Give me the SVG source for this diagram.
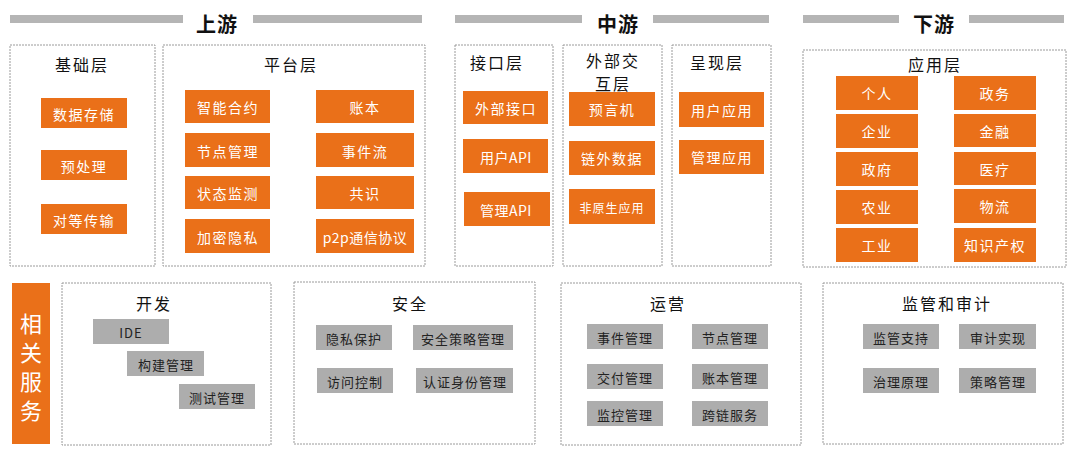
<svg xmlns="http://www.w3.org/2000/svg" width="1080" height="458" viewBox="0 0 1080 458">
<style>
text{font-family:"Noto Sans CJK SC","Noto Sans",sans-serif;text-anchor:middle;dominant-baseline:central}
.bar{fill:#b5b5b5}
.hd{font-size:20px;font-weight:bold;fill:#111;letter-spacing:1px}
.frame{fill:#fff;stroke:#9a9a9a;stroke-width:1;stroke-dasharray:2 1}
.ttl{font-size:16px;fill:#111;letter-spacing:2px}
.o{fill:#ea7019}
.ot{font-size:14px;fill:#fff;letter-spacing:1.5px}
.g{fill:#adadad}
.gt{font-size:13px;fill:#222;letter-spacing:1px}
.vt{font-size:22px;fill:#fff}
</style>
<rect width="1080" height="458" fill="#fff"/>
<g id="headers">
<rect class="bar" x="10" y="15" width="173" height="8"/>
<rect class="bar" x="253" y="15" width="169" height="8"/>
<text class="hd" x="217" y="23">上游</text>
<rect class="bar" x="455" y="15" width="127" height="8"/>
<rect class="bar" x="653" y="15" width="116" height="8"/>
<text class="hd" x="618" y="23">中游</text>
<rect class="bar" x="803" y="15" width="96" height="8"/>
<rect class="bar" x="969" y="15" width="95" height="8"/>
<text class="hd" x="934" y="23">下游</text>
</g>
<g id="jichu">
<rect class="frame" x="10" y="45" width="145" height="221"/>
<text class="ttl" x="82" y="64">基础层</text>
<rect class="o" x="41" y="98" width="86" height="30"/><text class="ot" x="84" y="114">数据存储</text>
<rect class="o" x="41" y="150" width="86" height="30"/><text class="ot" x="84" y="166">预处理</text>
<rect class="o" x="41" y="204" width="86" height="30"/><text class="ot" x="84" y="220">对等传输</text>
</g>
<g id="pingtai">
<rect class="frame" x="163" y="45" width="262" height="221"/>
<text class="ttl" x="291" y="64">平台层</text>
<rect class="o" x="185" y="90" width="85" height="33"/><text class="ot" x="228" y="107">智能合约</text>
<rect class="o" x="185" y="133" width="85" height="34"/><text class="ot" x="228" y="151">节点管理</text>
<rect class="o" x="185" y="176" width="85" height="33"/><text class="ot" x="228" y="193">状态监测</text>
<rect class="o" x="185" y="219" width="85" height="34"/><text class="ot" x="228" y="237">加密隐私</text>
<rect class="o" x="316" y="90" width="98" height="33"/><text class="ot" x="365" y="107">账本</text>
<rect class="o" x="316" y="133" width="98" height="34"/><text class="ot" x="365" y="151">事件流</text>
<rect class="o" x="316" y="176" width="98" height="33"/><text class="ot" x="365" y="193">共识</text>
<rect class="o" x="316" y="219" width="98" height="34"/><text class="ot" x="365" y="237" style="letter-spacing:0.5px">p2p通信协议</text>
</g>
<g id="jiekou">
<rect class="frame" x="455" y="45" width="98" height="221"/>
<text class="ttl" x="497" y="62">接口层</text>
<rect class="o" x="463" y="91" width="85" height="33"/><text class="ot" x="506" y="108">外部接口</text>
<rect class="o" x="463" y="139" width="85" height="34"/><text class="ot" x="506" y="157" style="letter-spacing:0.5px">用户API</text>
<rect class="o" x="464" y="192" width="86" height="34"/><text class="ot" x="506" y="210" style="letter-spacing:0.5px">管理API</text>
</g>
<g id="waibu">
<rect class="frame" x="563" y="45" width="99" height="221"/>
<text class="ttl" x="613" y="60">外部交<tspan x="613" dy="23">互层</tspan></text>
<rect class="o" x="569" y="92" width="86" height="34"/><text class="ot" x="612" y="109">预言机</text>
<rect class="o" x="569" y="141" width="86" height="34"/><text class="ot" x="612" y="158">链外数据</text>
<rect class="o" x="569" y="189" width="86" height="35"/><text class="ot" x="612" y="207" style="font-size:12px;letter-spacing:1px">非原生应用</text>
</g>
<g id="chengxian">
<rect class="frame" x="672" y="45" width="99" height="221"/>
<text class="ttl" x="717" y="62">呈现层</text>
<rect class="o" x="679" y="92" width="85" height="35"/><text class="ot" x="722" y="110">用户应用</text>
<rect class="o" x="679" y="140" width="85" height="34"/><text class="ot" x="722" y="157">管理应用</text>
</g>
<g id="yingyong">
<rect class="frame" x="803" y="50" width="263" height="217"/>
<text class="ttl" x="935" y="64">应用层</text>
<rect class="o" x="836" y="76" width="82" height="34"/><text class="ot" x="877" y="93">个人</text>
<rect class="o" x="836" y="114" width="82" height="34"/><text class="ot" x="877" y="131">企业</text>
<rect class="o" x="836" y="152" width="82" height="34"/><text class="ot" x="877" y="169">政府</text>
<rect class="o" x="836" y="190" width="82" height="34"/><text class="ot" x="877" y="207">农业</text>
<rect class="o" x="836" y="228" width="82" height="34"/><text class="ot" x="877" y="245">工业</text>
<rect class="o" x="954" y="76" width="82" height="34"/><text class="ot" x="995" y="93">政务</text>
<rect class="o" x="954" y="114" width="82" height="33"/><text class="ot" x="995" y="131">金融</text>
<rect class="o" x="954" y="152" width="82" height="33"/><text class="ot" x="995" y="169">医疗</text>
<rect class="o" x="954" y="189" width="82" height="34"/><text class="ot" x="995" y="206">物流</text>
<rect class="o" x="954" y="228" width="82" height="34"/><text class="ot" x="995" y="245">知识产权</text>
</g>
<g id="xiangguan">
<rect class="o" x="12" y="283" width="38" height="161"/>
<text class="vt" x="31" y="322">相</text>
<text class="vt" x="31" y="351">关</text>
<text class="vt" x="31" y="380">服</text>
<text class="vt" x="31" y="409">务</text>
</g>
<g id="kaifa">
<rect class="frame" x="62" y="283" width="209" height="162"/>
<text class="ttl" x="154" y="303">开发</text>
<rect class="g" x="93" y="319" width="76" height="25"/><text class="gt" x="131" y="332">IDE</text>
<rect class="g" x="127" y="351" width="77" height="25"/><text class="gt" x="166" y="364">构建管理</text>
<rect class="g" x="179" y="384" width="76" height="25"/><text class="gt" x="217" y="397">测试管理</text>
</g>
<g id="anquan">
<rect class="frame" x="294" y="282" width="241" height="162"/>
<text class="ttl" x="410" y="303">安全</text>
<rect class="g" x="316" y="325" width="76" height="25"/><text class="gt" x="354" y="338">隐私保护</text>
<rect class="g" x="413" y="325" width="100" height="25"/><text class="gt" x="463" y="338">安全策略管理</text>
<rect class="g" x="317" y="368" width="76" height="25"/><text class="gt" x="355" y="381">访问控制</text>
<rect class="g" x="416" y="368" width="97" height="25"/><text class="gt" x="465" y="381">认证身份管理</text>
</g>
<g id="yunying">
<rect class="frame" x="561" y="283" width="240" height="162"/>
<text class="ttl" x="668" y="303">运营</text>
<rect class="g" x="587" y="324" width="76" height="25"/><text class="gt" x="625" y="337">事件管理</text>
<rect class="g" x="692" y="324" width="76" height="25"/><text class="gt" x="730" y="337">节点管理</text>
<rect class="g" x="587" y="364" width="76" height="25"/><text class="gt" x="625" y="377">交付管理</text>
<rect class="g" x="692" y="364" width="76" height="25"/><text class="gt" x="730" y="377">账本管理</text>
<rect class="g" x="587" y="401" width="76" height="25"/><text class="gt" x="625" y="414">监控管理</text>
<rect class="g" x="692" y="401" width="76" height="25"/><text class="gt" x="730" y="414">跨链服务</text>
</g>
<g id="jianguan">
<rect class="frame" x="823" y="283" width="240" height="161"/>
<text class="ttl" x="947" y="303">监管和审计</text>
<rect class="g" x="863" y="324" width="76" height="25"/><text class="gt" x="901" y="337">监管支持</text>
<rect class="g" x="959" y="324" width="77" height="25"/><text class="gt" x="998" y="337">审计实现</text>
<rect class="g" x="863" y="368" width="76" height="25"/><text class="gt" x="901" y="381">治理原理</text>
<rect class="g" x="959" y="368" width="77" height="25"/><text class="gt" x="998" y="381">策略管理</text>
</g>
<g id="connectors"></g>
</svg>
